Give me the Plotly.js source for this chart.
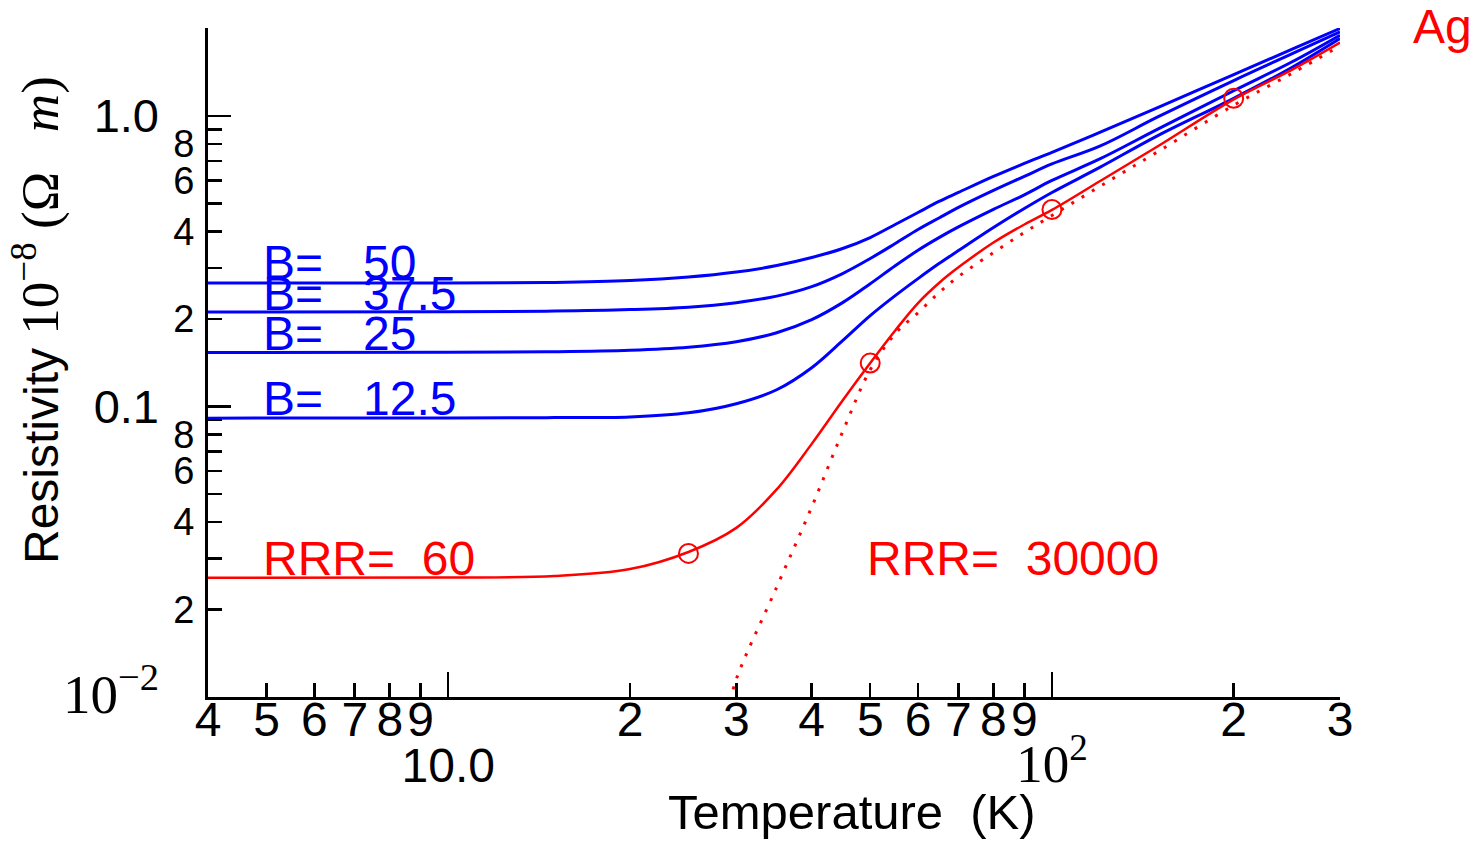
<!DOCTYPE html>
<html>
<head>
<meta charset="utf-8">
<script src="https://cdn.plot.ly/plotly-3.0.1.min.js"></script>
<style>html,body{margin:0;padding:0;background:#fff;}#chart{width:1478px;height:847px;}</style>
</head>
<body>
<div id="chart"></div>
<script>
// ---- data ----
const T_grid = [4, 10, 15, 20, 25, 30, 35, 40, 45, 50, 55, 60, 65, 70, 80, 90, 100, 120, 150, 200, 250, 300];
const rho_B50   = [0.2664, 0.2664, 0.2675, 0.2713, 0.2789, 0.2902, 0.3056, 0.3257, 0.3498, 0.3817, 0.4232, 0.4656, 0.5080, 0.5456, 0.6196, 0.6868, 0.7496, 0.8786, 1.0715, 1.3882, 1.6982, 2.0013];
const rho_B375  = [0.2116, 0.2118, 0.2130, 0.2156, 0.2198, 0.2278, 0.2399, 0.2587, 0.2869, 0.3231, 0.3639, 0.4068, 0.4457, 0.4845, 0.5544, 0.6196, 0.6841, 0.7874, 0.9945, 1.3246, 1.6387, 1.9489];
const rho_B25   = [0.1535, 0.1537, 0.1544, 0.1562, 0.1600, 0.1671, 0.1795, 0.1991, 0.2278, 0.2645, 0.3051, 0.3451, 0.3814, 0.4152, 0.4772, 0.5354, 0.6002, 0.7117, 0.9034, 1.2220, 1.5377, 1.8977];
const rho_B125  = [0.0912, 0.0913, 0.0916, 0.0921, 0.0951, 0.1022, 0.1142, 0.1360, 0.1685, 0.2055, 0.2408, 0.2756, 0.3105, 0.3442, 0.4133, 0.4806, 0.5456, 0.6654, 0.8578, 1.1509, 1.4722, 1.8490];
const rho_RRR60 = [0.02573, 0.02576, 0.02607, 0.02756, 0.03157, 0.03821, 0.05183, 0.07436, 0.10488, 0.14113, 0.1827, 0.2271, 0.2662, 0.3013, 0.3668, 0.4232, 0.4749, 0.5963, 0.7887, 1.1417, 1.4454, 1.7912];

const T_RRR30000   = [29, 30, 35, 40, 45, 50, 55, 60, 65, 70, 80, 90, 100, 120, 150, 200, 250, 300];
const rho_RRR30000 = [0.00881, 0.01151, 0.02389, 0.04509, 0.08179, 0.1338, 0.1781, 0.2103, 0.2466, 0.2801, 0.3388, 0.3972, 0.4545, 0.5723, 0.7554, 1.0887, 1.4037, 1.7431];

const T_data   = [25, 50, 100, 200];
const rho_data = [0.0312, 0.1411, 0.4768, 1.151];

const xMinorVals = [4, 5, 6, 7, 8, 9, 20, 30, 40, 50, 60, 70, 80, 90, 200, 300];
const xMinorText = ['4', '5', '6', '7', '8', '9', '2', '3', '4', '5', '6', '7', '8', '9', '2', '3'];
const xMajorVals = [10, 100];
const xMajorText = ['10.0', '<span style="font-family:\'Liberation Serif\';font-size:53px">10<sup>2</sup></span>'];
const yLabVals = [0.02, 0.04, 0.06, 0.08, 0.2, 0.4, 0.6, 0.8];
const yLabText = ['2', '4', '6', '8', '2', '4', '6', '8'];
const yUnlabVals = [0.03, 0.05, 0.07, 0.09, 0.3, 0.5, 0.7, 0.9];
const yMajorVals = [0.01, 0.1, 1];
const yMajorText = ['<span style="font-family:\'Liberation Serif\';font-size:55px">10<sup>\u22122</sup></span>', '0.1', '1.0'];

const blueLabels = ['B=\u00a0\u00a0\u00a050', 'B=\u00a0\u00a0\u00a037.5', 'B=\u00a0\u00a0\u00a025', 'B=\u00a0\u00a0\u00a012.5'];

// ---- layout helpers ----
const W = 1478, H = 847;
const L = 208, R = 138, TOP = 28, B = 150;
const pw = W - L - R, ph = H - TOP - B;
const px = v => (v - L) / pw;          // pixel -> paper x
const py = v => (H - B - v) / ph;      // pixel -> paper y

const FONT = 'Liberation Sans, Arial, sans-serif';
const BLUE = '#0000ff', RED = '#ff0000';
const lineOpts = (c, w) => ({color: c, width: w, shape: 'spline', smoothing: 1});

const traces = [
  {x: T_grid, y: rho_B50,  mode: 'lines', line: lineOpts(BLUE, 3), hoverinfo: 'skip'},
  {x: T_grid, y: rho_B375, mode: 'lines', line: lineOpts(BLUE, 3), hoverinfo: 'skip'},
  {x: T_grid, y: rho_B25,  mode: 'lines', line: lineOpts(BLUE, 3), hoverinfo: 'skip'},
  {x: T_grid, y: rho_B125, mode: 'lines', line: lineOpts(BLUE, 3), hoverinfo: 'skip'},
  {x: T_grid, y: rho_RRR60, mode: 'lines', line: lineOpts(RED, 2.5), hoverinfo: 'skip'},
  {x: T_RRR30000, y: rho_RRR30000, mode: 'lines', line: Object.assign(lineOpts(RED, 3), {dash: '3px,9px'}), hoverinfo: 'skip'},
  {x: T_data, y: rho_data, mode: 'markers', marker: {symbol: 'circle-open', size: 19, color: RED, line: {color: RED, width: 2}}, hoverinfo: 'skip'}
];

const ann = [];
const blueCapCenters = [262, 293.3, 333, 398.8];
blueLabels.forEach((t, i) => ann.push({xref: 'paper', yref: 'paper', x: px(261), y: py(blueCapCenters[i]), xanchor: 'left', yanchor: 'middle', text: t, showarrow: false, font: {family: FONT, size: 48, color: BLUE}}));
ann.push({xref: 'paper', yref: 'paper', x: px(261), y: py(558.7), xanchor: 'left', yanchor: 'middle', text: 'RRR=\u00a0\u00a060', showarrow: false, font: {family: FONT, size: 48, color: RED}});
ann.push({xref: 'paper', yref: 'paper', x: px(865), y: py(558.7), xanchor: 'left', yanchor: 'middle', text: 'RRR=\u00a0\u00a030000', showarrow: false, font: {family: FONT, size: 48, color: RED}});
ann.push({xref: 'paper', yref: 'paper', x: px(1411), y: py(26), xanchor: 'left', yanchor: 'middle', text: 'Ag', showarrow: false, font: {family: FONT, size: 48, color: RED}});
ann.push({xref: 'paper', yref: 'paper', x: px(852), y: py(812), xanchor: 'center', yanchor: 'middle', text: 'Temperature\u00a0\u00a0(K)', showarrow: false, font: {family: FONT, size: 49, color: '#000'}});
ann.push({xref: 'paper', yref: 'paper', x: px(36), y: py(320), xanchor: 'center', yanchor: 'middle', textangle: -90,
  text: 'Resistivity <span style="font-family:\'Liberation Serif\';font-size:53px">10<sup>\u22128</sup> (\u03a9\u00a0\u00a0\u00a0<i>m</i>)</span>', showarrow: false, font: {family: FONT, size: 48, color: '#000'}});

const xrange = [Math.log10(4), Math.log10(300)];
const yrange = [-2, 0.303];

const layout = {
  width: W, height: H,
  margin: {l: L, r: R, t: TOP, b: B, pad: 0},
  paper_bgcolor: '#fff', plot_bgcolor: '#fff',
  showlegend: false,
  font: {family: FONT, color: '#000'},
  xaxis: {type: 'log', range: xrange, tickmode: 'array', tickvals: xMinorVals, ticktext: xMinorText,
    ticks: 'inside', ticklen: 14, tickwidth: 2.5, tickcolor: '#000', showline: true, linewidth: 3, linecolor: '#000',
    showgrid: false, zeroline: false, tickfont: {family: FONT, size: 48, color: '#000'}, ticklabelstandoff: -22, fixedrange: true},
  xaxis2: {type: 'log', range: xrange, overlaying: 'x', anchor: 'y', side: 'bottom', tickmode: 'array', tickvals: xMajorVals, ticktext: xMajorText,
    ticks: 'inside', ticklen: 25, tickwidth: 2.5, tickcolor: '#000', showline: false, showgrid: false, zeroline: false,
    tickfont: {family: FONT, size: 48, color: '#000'}, ticklabelstandoff: 36, fixedrange: true},
  yaxis: {type: 'log', range: yrange, tickmode: 'array', tickvals: yLabVals, ticktext: yLabText,
    ticks: 'inside', ticklen: 14, tickwidth: 2.5, tickcolor: '#000', showline: true, linewidth: 3, linecolor: '#000',
    minor: {tickmode: 'array', tickvals: yUnlabVals, ticks: 'inside', ticklen: 14, tickwidth: 2.5, tickcolor: '#000', showgrid: false},
    showgrid: false, zeroline: false, tickfont: {family: FONT, size: 38, color: '#000'}, ticklabelstandoff: 3, fixedrange: true},
  yaxis2: {type: 'log', range: yrange, overlaying: 'y', anchor: 'x', side: 'left', tickmode: 'array', tickvals: yMajorVals, ticktext: yMajorText,
    ticks: 'inside', ticklen: 23, tickwidth: 2.5, tickcolor: '#000', showline: false, showgrid: false, zeroline: false,
    tickfont: {family: FONT, size: 47, color: '#000'}, ticklabelstandoff: 48, fixedrange: true},
  annotations: ann
};

// invisible point so the overlaid axes are drawn
traces.push({x: [10], y: [0.5], xaxis: 'x2', yaxis: 'y2', mode: 'markers', marker: {opacity: 0}, hoverinfo: 'skip'});

Plotly.newPlot('chart', traces, layout, {displayModeBar: false, staticPlot: true});
</script>
</body>
</html>
